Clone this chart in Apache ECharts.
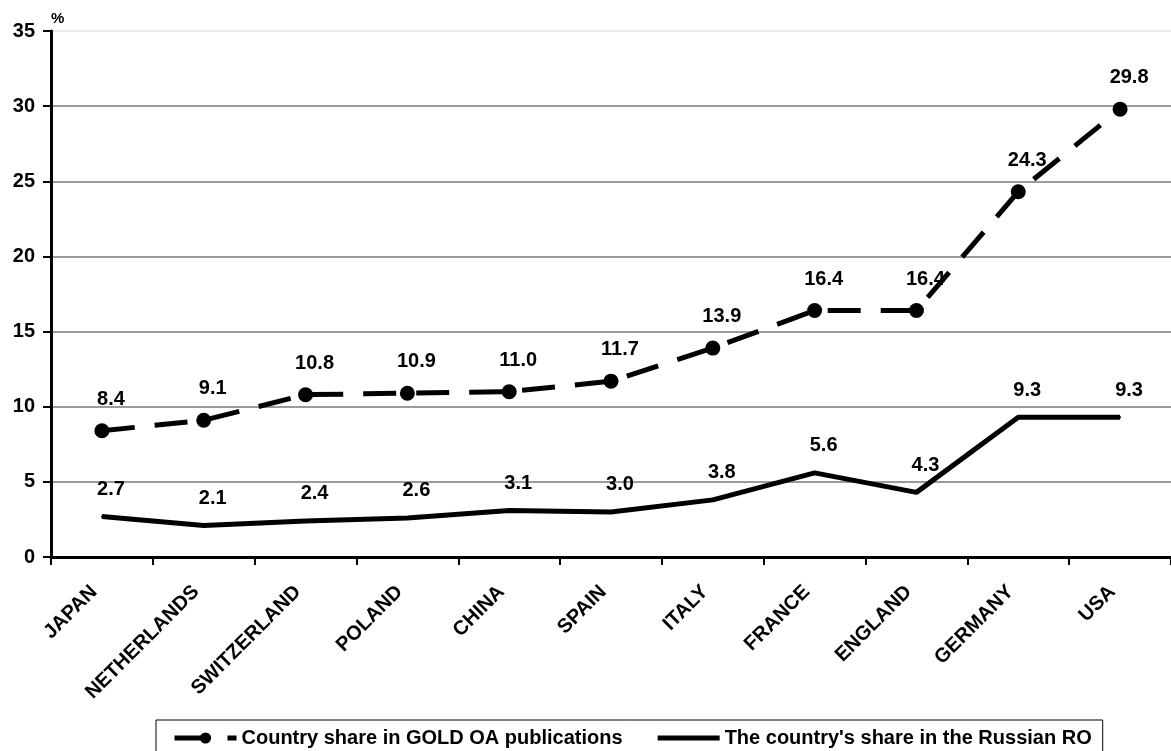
<!DOCTYPE html>
<html>
<head>
<meta charset="utf-8">
<script src="https://cdn.jsdelivr.net/npm/echarts@6/dist/echarts.min.js"></script>
<style>
  html, body { margin: 0; padding: 0; background: #ffffff; }
  #chart { width: 1171px; height: 751px; }
</style>
</head>
<body>
<div id="chart"></div>
<script>
// Countries along the horizontal axis
const countries = ['JAPAN', 'NETHERLANDS', 'SWITZERLAND', 'POLAND', 'CHINA', 'SPAIN',
                   'ITALY', 'FRANCE', 'ENGLAND', 'GERMANY', 'USA'];

// Share of each country in GOLD OA publications, %
const goldOaShare = [8.4, 9.1, 10.8, 10.9, 11.0, 11.7, 13.9, 16.4, 16.4, 24.3, 29.8];

// Share of each country in the Russian RO, %
const russianRoShare = [2.7, 2.1, 2.4, 2.6, 3.1, 3.0, 3.8, 5.6, 4.3, 9.3, 9.3];

// Value axis settings
const yMin = 0;
const yMax = 35;
const yStep = 5;

const FONT = '"Liberation Sans", Arial, Helvetica, sans-serif';

const chart = echarts.init(document.getElementById('chart'), null, { renderer: 'canvas' });

const valueLabel = {
  show: true,
  position: 'top',
  distance: 14,
  offset: [9, 0],
  color: '#000',
  fontFamily: FONT,
  fontWeight: 'bold',
  fontSize: 20,
  formatter: p => Number(p.value).toFixed(1)
};

chart.setOption({
  backgroundColor: '#ffffff',
  animation: false,
  textStyle: { fontFamily: FONT },
  grid: { left: 51, right: -9, top: 31, bottom: 194, containLabel: false },
  legend: {
    left: 156,
    top: 720,
    orient: 'horizontal',
    padding: [8, 11, 20, 16],
    itemGap: 35,
    itemWidth: 62,
    itemHeight: 14,
    borderColor: '#000',
    borderWidth: 1,
    lineStyle: { width: 5 },
    textStyle: { color: '#000', fontFamily: FONT, fontWeight: 'bold', fontSize: 20 },
    data: [
      { name: 'Country share in GOLD OA publications' },
      // plain thick bar for the solid line, without a marker
      { name: "The country's share in the Russian RO", icon: 'path://M0,0H62V5H0Z', itemStyle: { color: '#000' } }
    ]
  },
  xAxis: {
    type: 'category',
    data: countries,
    boundaryGap: true,
    axisLine: { show: true, lineStyle: { color: '#000', width: 3 } },
    axisTick: { show: true, inside: false, length: 8, alignWithLabel: false, lineStyle: { color: '#000', width: 2 } },
    axisLabel: {
      rotate: 45,
      interval: 0,
      margin: 24,
      padding: [0, 11, 0, 0],
      color: '#000',
      fontFamily: FONT,
      fontWeight: 'bold',
      fontSize: 20
    },
    splitLine: { show: false }
  },
  yAxis: {
    type: 'value',
    min: yMin,
    max: yMax,
    interval: yStep,
    name: '%',
    nameLocation: 'end',
    nameGap: 5,
    nameTextStyle: { color: '#000', fontFamily: FONT, fontWeight: 'bold', fontSize: 15, align: 'left', verticalAlign: 'bottom' },
    axisLine: { show: true, lineStyle: { color: '#000', width: 3 } },
    axisTick: { show: true, inside: false, length: 8, lineStyle: { color: '#000', width: 2 } },
    axisLabel: { margin: 16, color: '#000', fontFamily: FONT, fontWeight: 'bold', fontSize: 20 },
    splitLine: {
      show: true,
      lineStyle: {
        color: ['#7a7a7a', '#7a7a7a', '#7a7a7a', '#7a7a7a', '#7a7a7a', '#7a7a7a', '#7a7a7a', '#e2e2e2'],
        width: 1.5
      }
    }
  },
  series: [
    {
      name: 'Country share in GOLD OA publications',
      type: 'line',
      data: goldOaShare,
      symbol: 'circle',
      symbolSize: 15,
      itemStyle: { color: '#000' },
      lineStyle: { color: '#000', width: 5, type: [33, 20] },
      label: valueLabel,
      z: 3
    },
    {
      name: "The country's share in the Russian RO",
      type: 'line',
      data: russianRoShare,
      symbol: 'circle',
      symbolSize: 2,
      itemStyle: { color: '#000' },
      lineStyle: { color: '#000', width: 5, type: 'solid' },
      label: Object.assign({}, valueLabel, { distance: 16 }),
      z: 3
    }
  ]
});
</script>
</body>
</html>
